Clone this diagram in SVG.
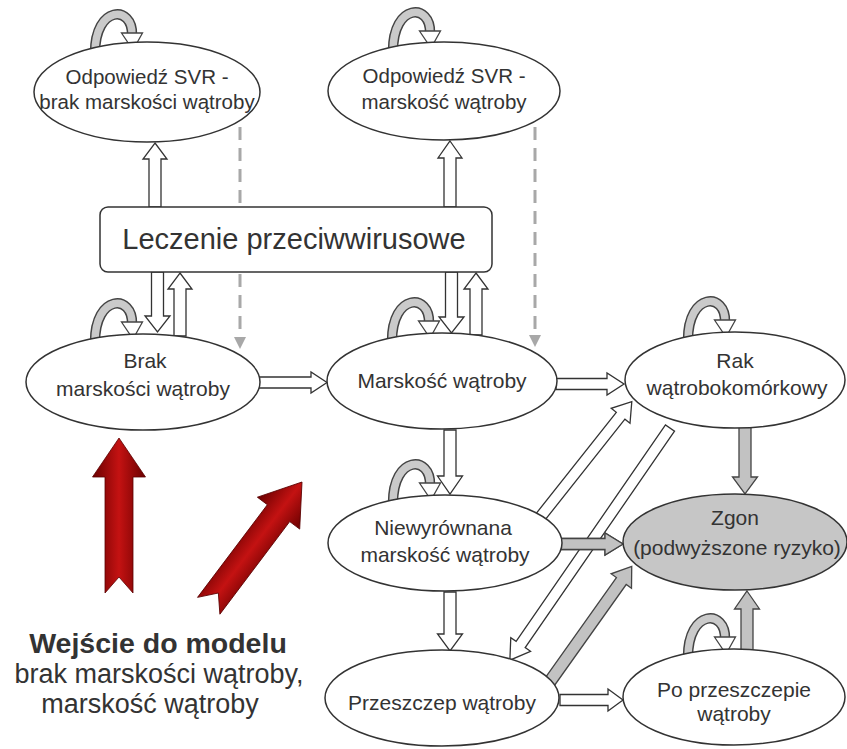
<svg xmlns="http://www.w3.org/2000/svg" xmlns:xlink="http://www.w3.org/1999/xlink" width="847" height="749" viewBox="0 0 847 749">
<style>
.node{fill:#fff;stroke:#333;stroke-width:1.5}
.death{fill:#c6c6c6;stroke:#333;stroke-width:1.5}
.t{font-family:"Liberation Sans",Arial,sans-serif;font-size:21px;fill:#333;text-anchor:middle}
.ts{font-size:20.5px}
.big{font-size:29px}
.wa{fill:#fff;stroke:#333;stroke-width:1.3;stroke-linejoin:miter}
.ga{fill:#c2c2c2;stroke:#444;stroke-width:1.3}
.dash{stroke:#a8a8a8;stroke-width:3;stroke-dasharray:13 8;fill:none}
.dh{fill:#a8a8a8}
.red{fill:url(#redg);stroke:#5a0000;stroke-width:0.8}
.entry{font-family:"Liberation Sans",Arial,sans-serif;text-anchor:middle;fill:#333}
</style>
<defs>
<linearGradient id="redg" x1="0" y1="0" x2="1" y2="0">
<stop offset="0" stop-color="#6a0000"/>
<stop offset="0.5" stop-color="#c41212"/>
<stop offset="1" stop-color="#6a0000"/>
</linearGradient>
<g id="loop">
<path d="M5,3 C5,-45 43,-45 42,-15" fill="none" stroke="#444" stroke-width="10.5"/>
<path d="M5,3 C5,-45 43,-45 42,-15" fill="none" stroke="#cacaca" stroke-width="7.5"/>
<polygon points="31.5,-17 52.5,-17 43,0" fill="#fff" stroke="#444" stroke-width="1.3"/>
</g>
</defs>
<rect width="847" height="749" fill="#fff"/>

<g id="connectors">
<use xlink:href="#loop" href="#loop" x="90" y="50"/>
<use xlink:href="#loop" href="#loop" x="388" y="48"/>
<use xlink:href="#loop" href="#loop" x="90" y="339"/>
<use xlink:href="#loop" href="#loop" x="387" y="338"/>
<use xlink:href="#loop" href="#loop" x="683" y="337"/>
<use xlink:href="#loop" href="#loop" x="388" y="500"/>
<use xlink:href="#loop" href="#loop" x="683" y="654"/>

<line class="dash" x1="240" y1="127" x2="240" y2="338"/>
<polygon class="dh" points="234,337 246,337 240,349"/>
<line class="dash" x1="535" y1="127" x2="535" y2="336"/>
<polygon class="dh" points="529,335 541,335 535,347"/>

<polygon class="wa" points="155,143 167,159 161,159 161,207 149,207 149,159 143,159"/>
<polygon class="wa" points="151.5,272 163.5,272 163.5,316 170,316 157.5,332 145,316 151.5,316"/>
<polygon class="wa" points="180,273 192,289 186,289 186,336 174,336 174,289 168,289"/>
<polygon class="wa" points="450,141 462,158 456,158 456,207 444,207 444,158 438,158"/>
<polygon class="wa" points="445.5,272 457.5,272 457.5,317 464,317 451.5,333 439,317 445.5,317"/>
<polygon class="wa" points="476,273 488,289 482,289 482,335 470,335 470,289 464,289"/>

<polygon class="wa" points="259,377 311,377 311,372 327,382.5 311,393 311,388 259,388"/>
<polygon class="wa" points="556,378.5 607,378.5 607,373 624,384 607,395 607,389.5 556,389.5"/>
<polygon class="wa" points="560,694.5 608,694.5 608,689 623,700 608,711 608,705.5 560,705.5"/>
<polygon class="wa" points="444,430 456,430 456,476 462.5,476 450,494 437.5,476 444,476"/>
<polygon class="wa" points="444,592 456,592 456,634 462.5,634 450,651 437.5,634 444,634"/>

<g transform="translate(670,428) rotate(124.6)">
<polygon class="wa" points="0,-5.5 263,-5.5 263,-12 282,0 263,12 263,5.5 0,5.5"/>
</g>
<g transform="translate(538,520) rotate(-51.6)">
<polygon class="wa" points="0,-5.5 133,-5.5 133,-12 151,0 133,12 133,5.5 0,5.5"/>
</g>

<polygon class="ga" points="560,538.5 605,538.5 605,533 623,544 605,555 605,549.5 560,549.5" stroke="#fff" stroke-width="5"/>
<polygon class="ga" points="560,538.5 605,538.5 605,533 623,544 605,555 605,549.5 560,549.5"/>
<polygon class="ga" points="739,426 751,426 751,477 757.5,477 745,494 732.5,477 739,477"/>
<polygon class="ga" points="747,591 759.5,609 753,609 753,652 741,652 741,609 734.5,609"/>
<g transform="translate(546,687) rotate(-54.6)">
<polygon class="ga" points="0,-6 130,-6 130,-12.5 148,0 130,12.5 130,6 0,6"/>
</g>
</g>

<g id="svr-brak">
<ellipse class="node" cx="147" cy="92" rx="113" ry="50"/>
<text class="t ts" x="147" y="84">Odpowiedź SVR -</text>
<text class="t ts" x="147" y="109">brak marskości wątroby</text>
</g>
<g id="svr-marskosc">
<ellipse class="node" cx="444" cy="91" rx="116" ry="49"/>
<text class="t ts" x="444" y="83">Odpowiedź SVR -</text>
<text class="t ts" x="444" y="109">marskość wątroby</text>
</g>
<g id="leczenie">
<rect class="node" x="100" y="207" width="392" height="65" rx="8"/>
<text class="t big" x="294" y="249">Leczenie przeciwwirusowe</text>
</g>
<g id="brak">
<ellipse class="node" cx="143" cy="382" rx="117" ry="48"/>
<text class="t" x="145" y="368">Brak</text>
<text class="t" x="143" y="396">marskości wątroby</text>
</g>
<g id="marskosc">
<ellipse class="node" cx="442" cy="381" rx="115" ry="48"/>
<text class="t" x="442" y="388">Marskość wątroby</text>
</g>
<g id="rak">
<ellipse class="node" cx="735" cy="380" rx="110" ry="48"/>
<text class="t" x="735" y="368">Rak</text>
<text class="t" x="737" y="395">wątrobokomórkowy</text>
</g>
<g id="zgon">
<ellipse class="death" cx="735" cy="542" rx="112" ry="48"/>
<text class="t" x="735" y="525">Zgon</text>
<text class="t" x="737" y="555">(podwyższone ryzyko)</text>
</g>
<g id="niewyrownana">
<ellipse class="node" cx="445" cy="543" rx="117" ry="48"/>
<text class="t" x="443" y="535">Niewyrównana</text>
<text class="t" x="445" y="562">marskość wątroby</text>
</g>
<g id="przeszczep">
<ellipse class="node" cx="442" cy="698" rx="117" ry="48"/>
<text class="t" x="442" y="710">Przeszczep wątroby</text>
</g>
<g id="po-przeszczepie">
<ellipse class="node" cx="734" cy="697" rx="111" ry="48"/>
<text class="t" x="734" y="697">Po przeszczepie</text>
<text class="t" x="734" y="721">wątroby</text>
</g>

<g id="entry-arrows">
<polygon class="red" transform="translate(119,438)" points="0,0 26.5,39 14,39 14,155 0,139 -14,155 -14,39 -26.5,39"/>
<polygon class="red" transform="translate(302,482) rotate(37)" points="0,0 26.5,39 14,39 14,155 0,139 -14,155 -14,39 -26.5,39"/>
</g>

<g id="entry-label">
<text class="entry" x="158" y="653" font-size="28.5" font-weight="bold" fill="#1a1a1a">Wejście do modelu</text>
<text class="entry" x="159" y="683" font-size="27">brak marskości wątroby,</text>
<text class="entry" x="150" y="713" font-size="27">marskość wątroby</text>
</g>
</svg>
